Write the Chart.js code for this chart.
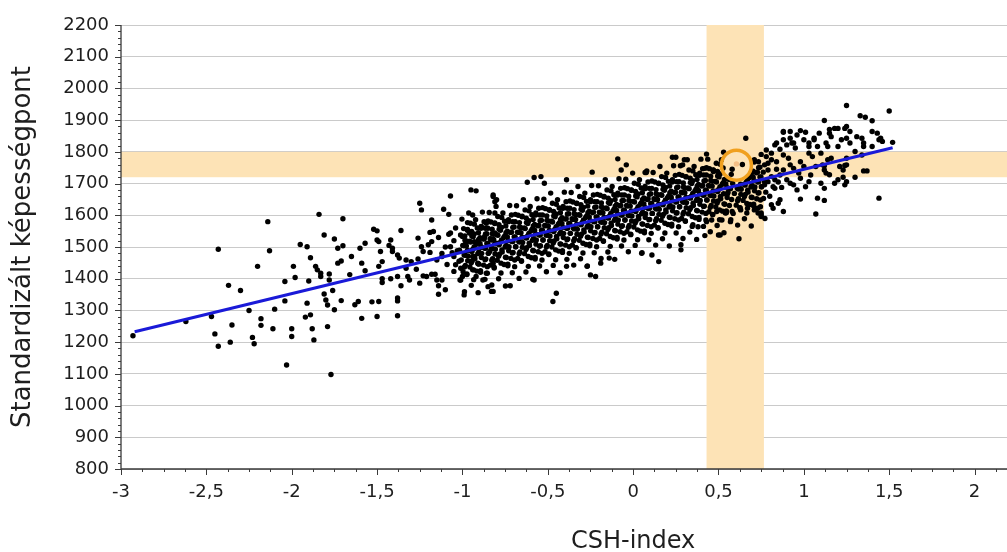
<!DOCTYPE html>
<html>
<head>
<meta charset="utf-8">
<script src="https://cdn.jsdelivr.net/npm/chart.js@4.4.1/dist/chart.umd.min.js"></script>
<style>
  html, body { margin: 0; padding: 0; background: #fff; }
  canvas { display: block; }
</style>
</head>
<body>
<canvas id="chart" width="1007" height="552"></canvas>
<script>
// tengelyek
const xTicks = [-3, -2.5, -2, -1.5, -1, -0.5, 0, 0.5, 1, 1.5, 2];
const yTicks = [800, 900, 1000, 1100, 1200, 1300, 1400, 1500, 1600, 1700, 1800, 1900, 2000, 2100, 2200];
const xTitle = 'CSH-index';
const yTitle = 'Standardizált képességpont';

// kiemelt sávok es a bekarikázott iskola
const bandX = [0.43, 0.766];
const bandY = [1720, 1800];
const circlePoint = [0.605, 1758];
const markedPoint = [0.605, 1762];

// regressziós egyenes végpontjai
const lineX = [-2.92, 1.52];
const lineY = [1233, 1813];

// pontok (CSH-index, képességpont)
const leftPoints = [
  [-2.93,1220],[-2.62,1265],[-2.47,1281],[-2.43,1493],[-2.45,1226],[-2.43,1187],[-2.37,1379],[-2.35,1254],
  [-2.36,1200],[-2.30,1363],[-2.25,1300],[-2.20,1439],[-2.18,1274],[-2.18,1253],[-2.23,1215],[-2.22,1195],
  [-2.14,1580],[-2.13,1488],[-2.11,1242],[-2.10,1304],[-2.04,1391],[-2.04,1330],[-2.03,1128],[-2.00,1242],
  [-2.00,1218],[-1.99,1439],[-1.98,1404],[-1.95,1508],[-1.91,1501],[-1.92,1279],[-1.89,1286],[-1.91,1323],
  [-1.90,1393],[-1.89,1466],[-1.88,1242],[-1.87,1207],[-1.84,1603],[-1.81,1538],[-1.86,1439],[-1.85,1428],
  [-1.83,1407],[-1.78,1415],[-1.78,1396],[-1.76,1363],[-1.81,1352],[-1.80,1333],[-1.79,1317],[-1.75,1302],
  [-1.79,1249],[-1.77,1098],[-1.75,1525],[-1.73,1496],[-1.70,1589],[-1.73,1449],[-1.71,1456],[-1.70,1504],
  [-1.71,1331],[-1.66,1413],[-1.65,1470],[-1.63,1318],[-1.61,1328],[-1.60,1496],[-1.59,1275],[-1.59,1449],
  [-1.57,1512],[-1.57,1425],[-1.53,1327],[-1.50,1281],[-1.52,1556],[-1.50,1551],[-1.50,1522],[-1.49,1439],
  [-1.49,1328],[-1.83,1417]
];
const midPoints = [
  [-1.48,1486],[-1.49,1517],[-1.47,1454],[-1.47,1400],[-1.47,1388],[-1.42,1522],[-1.43,1505],[-1.41,1496],
  [-1.41,1486],[-1.42,1400],[-1.38,1339],[-1.38,1330],[-1.38,1283],[-1.37,1465],[-1.38,1475],[-1.36,1552],
  [-1.38,1407],[-1.36,1378],[-1.33,1459],[-1.33,1433],[-1.32,1407],[-1.31,1396],[-1.30,1454],[-1.27,1430],
  [-1.26,1462],[-1.26,1528],[-1.25,1638],[-1.24,1617],[-1.24,1501],[-1.23,1486],[-1.20,1507],[-1.19,1546],
  [-1.17,1549],[-1.18,1585],[-1.18,1517],[-1.19,1483],[-1.23,1409],[-1.25,1386],[-1.21,1407],[-1.18,1414],
  [-1.16,1414],[-1.15,1396],[-1.14,1378],[-1.14,1351],[-1.10,1365],[-1.12,1396],[-1.15,1459],[-1.12,1470],
  [-1.11,1619],[-1.08,1603],[-1.07,1661],[-1.07,1544],[-1.07,1501],[-1.05,1470],[-1.04,1444],[-1.05,1423],
  [-1.01,1433],[-1.00,1407],[-0.99,1349],[-1.01,1396],[-1.00,1533],[-0.97,1577],[-0.98,1514],[-0.95,1680],
  [-0.92,1677],[-0.94,1601],[-0.96,1544],[-0.93,1517],[-0.94,1470],[-0.91,1449],[-0.89,1501],[-0.94,1428],
  [-0.92,1407],[-0.88,1396],[-0.85,1375],[-0.83,1360],[-0.84,1486],[-0.86,1575],[-0.82,1664],[-0.80,1649],
  [-0.81,1607],[-0.81,1544],[-0.80,1512],[-0.82,1449],[-0.89,1564],[-0.87,1533],[-0.83,1522],
  [-1.05,1520],[-1.03,1488],[-1.08,1540],[-1.02,1455],[-1.06,1482],[-1.10,1500],[-1.12,1480],[-1.04,1560],
  [-1.09,1445],[-1.14,1530]
];
const centerPoints = [
  [-0.82,1659],[-0.81,1643],[-0.62,1704],[-0.58,1719],[-0.54,1722],[-0.52,1701],[-0.39,1712],[-0.24,1736],
  [-0.09,1778],[-0.04,1759],[-0.07,1743],[0.08,1740],[0.07,1735],[0.23,1783],[0.25,1783],[0.29,1759],
  [0.30,1775],[0.43,1793],[0.42,1748],[0.47,1738],
  [-0.86,1417],[-0.82,1360],[-0.72,1378],[-0.58,1396],[-0.45,1354],[-0.47,1328],[-0.39,1439],[-0.27,1439],
  [-0.25,1412],[-0.22,1407],[-0.19,1449],[-0.14,1465],[0.05,1480],[0.11,1475],[0.15,1454],[0.28,1507],
  [0.28,1491],[0.42,1536],[0.50,1538]
];
const corePoints = [
  [-0.988,1359],[-1.014,1396],[-0.996,1422],[-0.983,1442],[-1.007,1459],[-0.990,1475],[-1.017,1490],[-0.998,1505],[-0.985,1521],[-1.011,1538],[-0.993,1558],[-1.003,1588],
  [-0.948,1379],[-0.974,1413],[-0.956,1437],[-0.943,1456],[-0.967,1472],[-0.950,1488],[-0.977,1503],[-0.958,1518],[-0.945,1535],[-0.971,1553],[-0.953,1575],[-0.963,1607],
  [-0.908,1356],[-0.934,1397],[-0.916,1424],[-0.903,1446],[-0.927,1463],[-0.910,1479],[-0.937,1494],[-0.918,1509],[-0.905,1524],[-0.931,1541],[-0.913,1560],[-0.923,1586],
  [-0.868,1398],[-0.894,1420],[-0.876,1443],[-0.863,1462],[-0.887,1480],[-0.870,1496],[-0.897,1511],[-0.878,1525],[-0.865,1541],[-0.891,1559],[-0.873,1580],[-0.883,1610],
  [-0.828,1380],[-0.854,1417],[-0.836,1443],[-0.823,1463],[-0.847,1480],[-0.830,1496],[-0.857,1511],[-0.838,1526],[-0.825,1542],[-0.851,1559],[-0.833,1579],[-0.843,1609],
  [-0.788,1400],[-0.814,1434],[-0.796,1458],[-0.783,1477],[-0.807,1493],[-0.790,1509],[-0.817,1524],[-0.798,1539],[-0.785,1556],[-0.811,1574],[-0.793,1596],[-0.803,1628],
  [-0.748,1377],[-0.774,1418],[-0.756,1445],[-0.743,1467],[-0.767,1484],[-0.750,1500],[-0.777,1515],[-0.758,1530],[-0.745,1545],[-0.771,1562],[-0.753,1581],[-0.763,1607],
  [-0.708,1419],[-0.734,1441],[-0.716,1464],[-0.703,1483],[-0.727,1501],[-0.710,1517],[-0.737,1532],[-0.718,1546],[-0.705,1562],[-0.731,1580],[-0.713,1601],[-0.723,1631],
  [-0.668,1401],[-0.694,1438],[-0.676,1464],[-0.663,1484],[-0.687,1501],[-0.670,1517],[-0.697,1532],[-0.678,1547],[-0.665,1563],[-0.691,1580],[-0.673,1600],[-0.683,1630],
  [-0.628,1421],[-0.654,1455],[-0.636,1479],[-0.623,1498],[-0.647,1514],[-0.630,1530],[-0.657,1545],[-0.638,1560],[-0.625,1577],[-0.651,1595],[-0.633,1617],[-0.643,1649],
  [-0.588,1398],[-0.614,1439],[-0.596,1466],[-0.583,1488],[-0.607,1505],[-0.590,1521],[-0.617,1536],[-0.598,1551],[-0.585,1566],[-0.611,1583],[-0.593,1602],[-0.603,1628],
  [-0.548,1440],[-0.574,1462],[-0.556,1485],[-0.543,1504],[-0.567,1522],[-0.550,1538],[-0.577,1553],[-0.558,1567],[-0.545,1583],[-0.571,1601],[-0.553,1622],[-0.563,1652],
  [-0.508,1422],[-0.534,1459],[-0.516,1485],[-0.503,1505],[-0.527,1522],[-0.510,1538],[-0.537,1553],[-0.518,1568],[-0.505,1584],[-0.531,1601],[-0.513,1621],[-0.523,1651],
  [-0.468,1442],[-0.494,1476],[-0.476,1500],[-0.463,1519],[-0.487,1535],[-0.470,1551],[-0.497,1566],[-0.478,1581],[-0.465,1598],[-0.491,1616],[-0.473,1638],[-0.483,1670],
  [-0.428,1419],[-0.454,1460],[-0.436,1487],[-0.423,1509],[-0.447,1526],[-0.430,1542],[-0.457,1557],[-0.438,1572],[-0.425,1587],[-0.451,1604],[-0.433,1623],[-0.443,1649],
  [-0.388,1461],[-0.414,1483],[-0.396,1506],[-0.383,1525],[-0.407,1543],[-0.390,1559],[-0.417,1574],[-0.398,1588],[-0.385,1604],[-0.411,1622],[-0.393,1643],[-0.403,1673],
  [-0.348,1443],[-0.374,1480],[-0.356,1506],[-0.343,1526],[-0.367,1543],[-0.350,1559],[-0.377,1574],[-0.358,1589],[-0.345,1605],[-0.371,1622],[-0.353,1642],[-0.363,1672],
  [-0.308,1463],[-0.334,1497],[-0.316,1521],[-0.303,1540],[-0.327,1556],[-0.310,1572],[-0.337,1587],[-0.318,1602],[-0.305,1619],[-0.331,1637],[-0.313,1659],[-0.323,1691],
  [-0.268,1440],[-0.294,1481],[-0.276,1508],[-0.263,1530],[-0.287,1547],[-0.270,1563],[-0.297,1578],[-0.278,1593],[-0.265,1608],[-0.291,1625],[-0.273,1644],[-0.283,1670],
  [-0.228,1482],[-0.254,1504],[-0.236,1527],[-0.223,1546],[-0.247,1564],[-0.230,1580],[-0.257,1595],[-0.238,1609],[-0.225,1625],[-0.251,1643],[-0.233,1664],[-0.243,1694],
  [-0.188,1464],[-0.214,1501],[-0.196,1527],[-0.183,1547],[-0.207,1564],[-0.190,1580],[-0.217,1595],[-0.198,1610],[-0.185,1626],[-0.211,1643],[-0.193,1663],[-0.203,1693],
  [-0.148,1484],[-0.174,1518],[-0.156,1542],[-0.143,1561],[-0.167,1577],[-0.150,1593],[-0.177,1608],[-0.158,1623],[-0.145,1640],[-0.171,1658],[-0.153,1680],[-0.163,1712],
  [-0.108,1461],[-0.134,1502],[-0.116,1529],[-0.103,1551],[-0.127,1568],[-0.110,1584],[-0.137,1599],[-0.118,1614],[-0.105,1629],[-0.131,1646],[-0.113,1665],[-0.123,1691],
  [-0.068,1503],[-0.094,1525],[-0.076,1548],[-0.063,1567],[-0.087,1585],[-0.070,1601],[-0.097,1616],[-0.078,1630],[-0.065,1646],[-0.091,1664],[-0.073,1685],[-0.083,1715],
  [-0.028,1485],[-0.054,1522],[-0.036,1548],[-0.023,1568],[-0.047,1585],[-0.030,1601],[-0.057,1616],[-0.038,1631],[-0.025,1647],[-0.051,1664],[-0.033,1684],[-0.043,1714],
  [0.012,1505],[-0.014,1539],[0.004,1563],[0.017,1582],[-0.007,1598],[0.010,1614],[-0.017,1629],[0.002,1644],[0.015,1661],[-0.011,1679],[0.007,1701],[-0.003,1733],
  [0.052,1482],[0.026,1523],[0.044,1550],[0.057,1572],[0.033,1589],[0.050,1605],[0.023,1620],[0.042,1635],[0.055,1650],[0.029,1667],[0.047,1686],[0.037,1712],
  [0.092,1523],[0.066,1545],[0.084,1568],[0.097,1587],[0.073,1605],[0.090,1621],[0.063,1636],[0.082,1650],[0.095,1666],[0.069,1684],[0.087,1705],[0.077,1735],
  [0.132,1506],[0.106,1543],[0.124,1569],[0.137,1589],[0.113,1606],[0.130,1622],[0.103,1637],[0.122,1652],[0.135,1668],[0.109,1685],[0.127,1705],[0.117,1735],
  [0.172,1526],[0.146,1560],[0.164,1584],[0.177,1603],[0.153,1619],[0.170,1635],[0.143,1650],[0.162,1665],[0.175,1682],[0.149,1700],[0.167,1722],[0.157,1754],
  [0.212,1503],[0.186,1544],[0.204,1571],[0.217,1593],[0.193,1610],[0.210,1626],[0.183,1641],[0.202,1656],[0.215,1671],[0.189,1688],[0.207,1707],[0.197,1733],
  [0.252,1544],[0.226,1566],[0.244,1589],[0.257,1608],[0.233,1626],[0.250,1642],[0.223,1657],[0.242,1671],[0.255,1687],[0.229,1705],[0.247,1726],[0.237,1756],
  [0.292,1527],[0.266,1564],[0.284,1590],[0.297,1610],[0.273,1627],[0.290,1643],[0.263,1658],[0.282,1673],[0.295,1689],[0.269,1706],[0.287,1726],[0.277,1756],
  [0.332,1547],[0.306,1581],[0.324,1605],[0.337,1624],[0.313,1640],[0.330,1656],[0.303,1671],[0.322,1686],[0.335,1703],[0.309,1721],[0.327,1743],[0.317,1775],
  [0.372,1524],[0.346,1565],[0.364,1592],[0.377,1614],[0.353,1631],[0.370,1647],[0.343,1662],[0.362,1677],[0.375,1692],[0.349,1709],[0.367,1728],[0.357,1754],
  [0.412,1565],[0.386,1587],[0.404,1610],[0.417,1629],[0.393,1647],[0.410,1663],[0.383,1678],[0.402,1692],[0.415,1708],[0.389,1726],[0.407,1747],[0.397,1777],
  [0.452,1548],[0.426,1585],[0.444,1611],[0.457,1631],[0.433,1648],[0.450,1664],[0.423,1679],[0.442,1694],[0.455,1710],[0.429,1727],[0.447,1747],[0.437,1777],
  [0.492,1568],[0.466,1602],[0.484,1626],[0.497,1645],[0.473,1661],[0.490,1677],[0.463,1692],[0.482,1707],[0.495,1724],[0.469,1742],[0.487,1764],
  [0.532,1545],[0.506,1586],[0.524,1613],[0.537,1635],[0.513,1652],[0.530,1668],[0.503,1683],[0.522,1698],[0.535,1713],[0.509,1730],[0.527,1749],[0.517,1775],
  [0.572,1586],[0.546,1608],[0.564,1631],[0.577,1650],[0.553,1668],[0.570,1684],[0.543,1699],[0.562,1713],[0.575,1729],
  [0.612,1569],[0.586,1606],[0.604,1632],[0.617,1652],[0.593,1669],[0.610,1685],[0.583,1700],
  [0.652,1589],[0.626,1623],[0.644,1647],[0.657,1666],[0.633,1682],[0.650,1698],
  [0.692,1566],[0.666,1607],[0.684,1634],[0.697,1656],[0.673,1673],[0.690,1689],[0.663,1704],[0.682,1719],[0.695,1734],
  [0.732,1607],[0.706,1629],[0.724,1652],[0.737,1671],[0.713,1689],[0.730,1705],[0.703,1720],[0.722,1734],[0.735,1750],[0.709,1768],
  [0.772,1590],[0.746,1627],[0.764,1653],[0.777,1673],[0.753,1690],[0.770,1706],[0.743,1721],[0.762,1736],
  [0.58,1745],[0.64,1760]
];
const coreFillPoints = [
  [-0.974,1415],[-0.988,1437],[-0.969,1457],[-0.984,1474],[-0.971,1489],[-0.992,1504],[-0.977,1519],[-0.986,1535],[-0.970,1555],
  [-0.934,1428],[-0.948,1450],[-0.929,1470],[-0.944,1486],[-0.931,1501],[-0.952,1516],[-0.937,1532],[-0.946,1549],[-0.930,1572],
  [-0.894,1425],[-0.908,1447],[-0.889,1467],[-0.904,1484],[-0.891,1499],[-0.912,1514],[-0.897,1529],[-0.906,1545],[-0.890,1565],
  [-0.854,1438],[-0.868,1460],[-0.849,1480],[-0.864,1496],[-0.851,1511],[-0.872,1526],[-0.857,1542],[-0.866,1559],[-0.850,1582],
  [-0.814,1436],[-0.828,1458],[-0.809,1478],[-0.824,1495],[-0.811,1510],[-0.832,1525],[-0.817,1540],[-0.826,1556],[-0.810,1576],
  [-0.774,1449],[-0.788,1471],[-0.769,1491],[-0.784,1507],[-0.771,1522],[-0.792,1537],[-0.777,1553],[-0.786,1570],[-0.770,1593],
  [-0.734,1446],[-0.748,1468],[-0.729,1488],[-0.744,1505],[-0.731,1520],[-0.752,1535],[-0.737,1550],[-0.746,1566],[-0.730,1586],
  [-0.694,1459],[-0.708,1481],[-0.689,1501],[-0.704,1517],[-0.691,1532],[-0.712,1547],[-0.697,1563],[-0.706,1580],[-0.690,1603],
  [-0.654,1457],[-0.668,1479],[-0.649,1499],[-0.664,1516],[-0.651,1531],[-0.672,1546],[-0.657,1561],[-0.666,1577],[-0.650,1597],
  [-0.614,1470],[-0.628,1492],[-0.609,1512],[-0.624,1528],[-0.611,1543],[-0.632,1558],[-0.617,1574],[-0.626,1591],[-0.610,1614],
  [-0.574,1467],[-0.588,1489],[-0.569,1509],[-0.584,1526],[-0.571,1541],[-0.592,1556],[-0.577,1571],[-0.586,1587],[-0.570,1607],
  [-0.534,1480],[-0.548,1502],[-0.529,1522],[-0.544,1538],[-0.531,1553],[-0.552,1568],[-0.537,1584],[-0.546,1601],[-0.530,1624],
  [-0.494,1478],[-0.508,1500],[-0.489,1520],[-0.504,1537],[-0.491,1552],[-0.512,1567],[-0.497,1582],[-0.506,1598],[-0.490,1618],
  [-0.454,1491],[-0.468,1513],[-0.449,1533],[-0.464,1549],[-0.451,1564],[-0.472,1579],[-0.457,1595],[-0.466,1612],[-0.450,1635],
  [-0.414,1488],[-0.428,1510],[-0.409,1530],[-0.424,1547],[-0.411,1562],[-0.432,1577],[-0.417,1592],[-0.426,1608],[-0.410,1628],
  [-0.374,1501],[-0.388,1523],[-0.369,1543],[-0.384,1559],[-0.371,1574],[-0.392,1589],[-0.377,1605],[-0.386,1622],[-0.370,1645],
  [-0.334,1498],[-0.348,1520],[-0.329,1540],[-0.344,1557],[-0.331,1572],[-0.352,1587],[-0.337,1602],[-0.346,1618],[-0.330,1638],
  [-0.294,1512],[-0.308,1534],[-0.289,1554],[-0.304,1570],[-0.291,1585],[-0.312,1600],[-0.297,1616],[-0.306,1633],[-0.290,1656],
  [-0.254,1509],[-0.268,1531],[-0.249,1551],[-0.264,1568],[-0.251,1583],[-0.272,1598],[-0.257,1613],[-0.266,1629],[-0.250,1649],
  [-0.214,1522],[-0.228,1544],[-0.209,1564],[-0.224,1580],[-0.211,1595],[-0.232,1610],[-0.217,1626],[-0.226,1643],[-0.210,1666],
  [-0.174,1519],[-0.188,1541],[-0.169,1561],[-0.184,1578],[-0.171,1593],[-0.192,1608],[-0.177,1623],[-0.186,1639],[-0.170,1659],
  [-0.134,1533],[-0.148,1555],[-0.129,1575],[-0.144,1591],[-0.131,1606],[-0.152,1621],[-0.137,1637],[-0.146,1654],[-0.130,1677],
  [-0.094,1530],[-0.108,1552],[-0.089,1572],[-0.104,1589],[-0.091,1604],[-0.112,1619],[-0.097,1634],[-0.106,1650],[-0.090,1670],
  [-0.054,1543],[-0.068,1565],[-0.049,1585],[-0.064,1601],[-0.051,1616],[-0.072,1631],[-0.057,1647],[-0.066,1664],[-0.050,1687],
  [-0.014,1540],[-0.028,1562],[-0.009,1582],[-0.024,1599],[-0.011,1614],[-0.032,1629],[-0.017,1644],[-0.026,1660],[-0.010,1680],
  [0.026,1554],[0.012,1576],[0.031,1596],[0.016,1612],[0.029,1627],[0.008,1642],[0.023,1658],[0.014,1675],[0.030,1698],
  [0.066,1551],[0.052,1573],[0.071,1593],[0.056,1610],[0.069,1625],[0.048,1640],[0.063,1655],[0.054,1671],[0.070,1691],
  [0.106,1564],[0.092,1586],[0.111,1606],[0.096,1622],[0.109,1637],[0.088,1652],[0.103,1668],[0.094,1685],[0.110,1708],
  [0.146,1561],[0.132,1583],[0.151,1603],[0.136,1620],[0.149,1635],[0.128,1650],[0.143,1665],[0.134,1681],[0.150,1701],
  [0.186,1575],[0.172,1597],[0.191,1617],[0.176,1633],[0.189,1648],[0.168,1663],[0.183,1679],[0.174,1696],[0.190,1719],
  [0.226,1572],[0.212,1594],[0.231,1614],[0.216,1631],[0.229,1646],[0.208,1661],[0.223,1676],[0.214,1692],[0.230,1712],
  [0.266,1585],[0.252,1607],[0.271,1627],[0.256,1643],[0.269,1658],[0.248,1673],[0.263,1689],[0.254,1706],[0.270,1729],
  [0.306,1582],[0.292,1604],[0.311,1624],[0.296,1641],[0.309,1656],[0.288,1671],[0.303,1686],[0.294,1702],[0.310,1722],
  [0.346,1596],[0.332,1618],[0.351,1638],[0.336,1654],[0.349,1669],[0.328,1684],[0.343,1700],[0.334,1717],[0.350,1740],
  [0.386,1593],[0.372,1615],[0.391,1635],[0.376,1652],[0.389,1667],[0.368,1682],[0.383,1697],[0.374,1713],[0.390,1733],
  [0.426,1606],[0.412,1628],[0.431,1648],[0.416,1664],[0.429,1679],[0.408,1694],[0.423,1710],[0.414,1727],[0.430,1750],
  [0.466,1603],[0.452,1625],[0.471,1645],[0.456,1662],[0.469,1677],[0.448,1692],[0.463,1707],[0.454,1723],[0.470,1743],
  [0.506,1617],[0.492,1639],[0.511,1659],[0.496,1675],[0.509,1690],[0.488,1705],[0.503,1721],[0.494,1738],[0.510,1761],
  [0.546,1614],[0.532,1636],[0.551,1656],[0.556,1673],[0.549,1688],[0.528,1703],
  [0.626,1624],[0.612,1646],[0.631,1666],[0.616,1683],[0.629,1698],
  [0.666,1637],[0.652,1659],[0.671,1679],[0.656,1695],[0.669,1710],
  [0.706,1635],[0.692,1657],[0.711,1677],[0.696,1694],[0.709,1709],[0.688,1724],[0.703,1739],[0.710,1775],
  [0.746,1648],[0.732,1670],[0.751,1690],[0.736,1706],[0.749,1721],[0.728,1736],[0.743,1752],[0.734,1769],[0.750,1792]
];
const rightPoints = [
  [1.25,1946],[1.50,1929],[1.33,1914],[1.36,1909],[1.40,1898],[1.12,1899],[0.66,1843],[0.53,1799],
  [0.88,1862],[0.98,1867],[1.01,1862],[1.09,1859],[1.15,1871],[1.20,1874],[1.24,1874],[1.27,1864],
  [1.31,1848],[1.34,1843],[1.40,1864],[1.43,1859],[1.44,1838],[1.46,1833],[1.52,1830],[1.35,1828],
  [1.25,1843],[1.27,1828],[1.22,1838],[1.20,1817],[1.13,1828],[1.14,1817],[1.10,1796],[1.16,1780],
  [1.23,1743],[1.25,1759],[1.35,1740],[1.37,1740],[1.30,1720],[1.23,1720],[1.25,1706],[1.24,1696],
  [1.20,1712],[1.18,1701],[1.15,1728],[1.11,1759],[1.12,1743],[1.07,1754],[1.04,1727],[1.10,1701],
  [1.12,1685],[1.08,1654],[1.12,1647],[1.07,1604],[1.44,1654],[0.98,1651],[1.03,1706],[1.01,1690],
  [0.98,1717],[0.97,1733],[1.00,1754],[0.98,1769],[1.03,1796],[1.05,1785],[1.03,1828],[1.06,1838],
  [0.94,1828],[0.92,1843],[0.88,1838],[0.90,1822],[0.86,1808],[0.83,1822],[0.81,1796],[0.78,1806],
  [0.78,1785],[0.79,1764],[0.81,1775],[0.84,1769],[0.88,1790],[0.91,1780],[0.92,1759],[0.94,1748],
  [0.88,1743],[0.86,1727],[0.90,1712],[0.92,1701],[0.83,1712],[0.81,1722],[0.79,1706],[0.77,1696],
  [0.83,1685],[0.87,1688],[0.96,1680],[0.94,1696],[0.86,1649],[0.85,1638],[0.81,1633],[0.82,1622],
  [0.88,1612],[0.75,1607],[0.73,1622],[0.75,1596],[0.79,1743],[0.77,1759],[0.51,1538],[0.62,1526],
  [0.38,1564],[0.35,1570],[0.43,1580],[0.46,1585],[0.52,1585],[0.57,1580],[0.49,1612],[0.54,1607],
  [0.58,1612],[0.63,1617],[0.67,1622],[0.71,1617],[0.75,1601],
  [1.13,1733],[1.12,1756],[1.21,1754],[1.24,1757],[1.14,1775],[1.25,1780],[1.30,1801],[1.34,1790],
  [1.35,1817],[1.40,1817],[1.45,1843],[1.18,1874],[1.25,1880],[1.15,1859],[1.16,1848],[1.06,1843],
  [1.08,1817],[1.00,1838],[1.03,1817],[0.92,1864],[0.96,1853],[0.88,1864],[0.93,1828],[0.95,1812],
  [0.84,1828],[0.80,1660],[0.82,1690],[0.84,1745],[0.85,1705]
];

const allPoints = [...leftPoints, ...midPoints, ...centerPoints, ...corePoints, ...coreFillPoints, ...rightPoints]
  .map(p => ({ x: p[0], y: p[1] }));

const bandColor = 'rgb(253, 227, 182)';
const axisColor = '#3a3a3a';
const textColor = '#1e1e1e';
const fontFamily = '"DejaVu Sans", sans-serif';

const fmt = v => String(v).replace('.', ',');

// sávok, tengelyvonalak, osztások, x tengely felirat
const decor = {
  id: 'decor',
  beforeDatasetsDraw(chart) {
    const { ctx, chartArea: a, scales: { x, y } } = chart;
    ctx.save();
    ctx.fillStyle = bandColor;
    const x0 = x.getPixelForValue(bandX[0]);
    const x1 = x.getPixelForValue(bandX[1]);
    ctx.fillRect(x0, a.top, x1 - x0, a.bottom - a.top);
    const y0 = y.getPixelForValue(bandY[1]);
    const y1 = y.getPixelForValue(bandY[0]);
    ctx.fillRect(a.left, y0, a.right - a.left, y1 - y0);
    ctx.restore();
  },
  afterDraw(chart) {
    const { ctx, chartArea: a, scales: { x, y } } = chart;
    ctx.save();
    ctx.strokeStyle = axisColor;
    ctx.lineWidth = 1.3;
    ctx.beginPath();
    ctx.moveTo(a.left, a.top);
    ctx.lineTo(a.left, a.bottom);
    ctx.lineTo(a.right, a.bottom);
    ctx.stroke();

    ctx.lineWidth = 1;
    ctx.beginPath();
    for (let v = yTicks[0]; v <= yTicks[yTicks.length - 1]; v += 20) {
      const py = Math.round(y.getPixelForValue(v)) + 0.5;
      const len = v % 100 === 0 ? 6 : 3;
      ctx.moveTo(a.left - len, py);
      ctx.lineTo(a.left, py);
    }
    for (let i = 0; i <= 41; i++) {
      const v = -3 + i * 0.125;
      const px = Math.round(x.getPixelForValue(v)) + 0.5;
      const len = i % 4 === 0 ? 6 : 3;
      ctx.moveTo(px, a.bottom);
      ctx.lineTo(px, a.bottom + len);
    }
    ctx.stroke();

    ctx.fillStyle = textColor;
    ctx.font = '24px ' + fontFamily;
    ctx.textAlign = 'center';
    ctx.textBaseline = 'alphabetic';
    ctx.fillText(xTitle, x.getPixelForValue(0), 548);
    ctx.restore();
  }
};

new Chart(document.getElementById('chart'), {
  type: 'scatter',
  data: {
    datasets: [
      {
        type: 'line',
        data: lineX.map((v, i) => ({ x: v, y: lineY[i] })),
        borderColor: '#1a1ad8',
        borderWidth: 3,
        pointRadius: 0,
        fill: false,
        order: 0
      },
      {
        data: [{ x: circlePoint[0], y: circlePoint[1] }],
        pointRadius: 15,
        borderColor: '#f0a01e',
        borderWidth: 3.5,
        backgroundColor: 'rgba(0,0,0,0)',
        order: 1
      },
      {
        data: [{ x: markedPoint[0], y: markedPoint[1] }],
        pointRadius: 2.7,
        borderWidth: 0,
        backgroundColor: '#f4bf86',
        order: 2
      },
      {
        data: allPoints,
        pointRadius: 2.7,
        borderWidth: 0,
        backgroundColor: '#000',
        order: 3
      }
    ]
  },
  options: {
    responsive: false,
    animation: false,
    layout: { autoPadding: false, padding: { top: 25, right: 0, bottom: 0, left: 0 } },
    plugins: { legend: { display: false }, tooltip: { enabled: false } },
    scales: {
      x: {
        type: 'linear',
        min: -3,
        max: 2.19,
        grid: { display: false, drawTicks: false },
        border: { display: false },
        afterBuildTicks: s => { s.ticks = xTicks.map(v => ({ value: v })); },
        afterFit: s => { s.height = 83; s.paddingRight = 0; s.paddingLeft = 0; },
        ticks: {
          padding: 13,
          autoSkip: false,
          maxRotation: 0,
          color: textColor,
          font: { family: fontFamily, size: 18 },
          callback: v => fmt(v)
        }
      },
      y: {
        type: 'linear',
        min: 800,
        max: 2200,
        grid: { color: '#cacaca', lineWidth: 1, drawTicks: false },
        border: { display: false },
        afterBuildTicks: s => { s.ticks = yTicks.map(v => ({ value: v })); },
        afterFit: s => { s.width = 121; },
        ticks: {
          padding: 12,
          color: textColor,
          font: { family: fontFamily, size: 18 },
          callback: v => fmt(v)
        },
        title: {
          display: true,
          text: yTitle,
          color: textColor,
          font: { family: fontFamily, size: 26 },
          padding: { top: 8, bottom: 0 }
        }
      }
    }
  },
  plugins: [decor]
});
</script>
</body>
</html>
